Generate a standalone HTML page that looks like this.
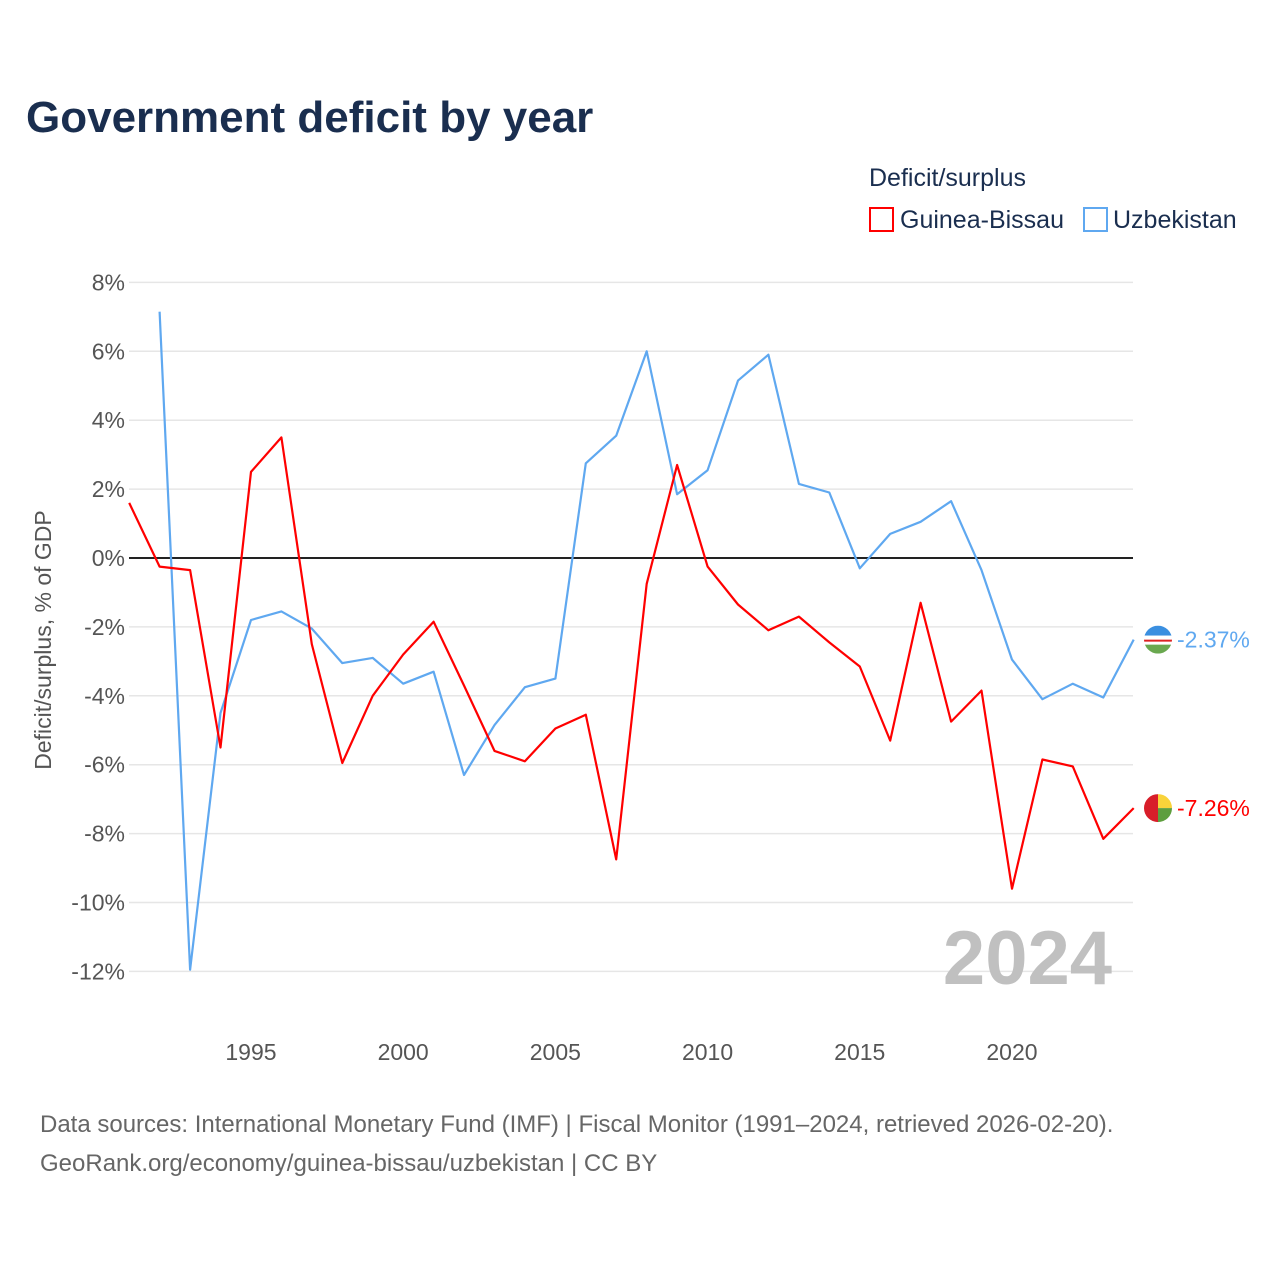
<!DOCTYPE html>
<html><head><meta charset="utf-8"><style>
body{margin:0;background:#fff;font-family:"Liberation Sans",sans-serif}
#wrap{position:relative;width:1280px;height:1280px}
</style></head><body>
<div id="wrap">
<svg id="chart" width="1280" height="1280" style="font-family:'Liberation Sans',sans-serif">
<text x="26" y="132" font-size="44" font-weight="bold" fill="#1a2e4f">Government deficit by year</text>
<text x="869" y="186" font-size="25" fill="#1a2e4f">Deficit/surplus</text>
<g><rect x="870" y="208" width="23" height="23" fill="none" stroke="#f00" stroke-width="2"/><text x="900" y="228" font-size="25" fill="#1a2e4f">Guinea-Bissau</text></g>
<g><rect x="1084" y="208" width="23" height="23" fill="none" stroke="#5fa8f0" stroke-width="2"/><text x="1113" y="228" font-size="25" fill="#1a2e4f">Uzbekistan</text></g>
<g id="grid"></g><g id="yt"></g><g id="xt"></g>
<line x1="129" x2="1133" y1="558" y2="558" stroke="#222" stroke-width="2"/>
<text transform="translate(51,640) rotate(-90)" text-anchor="middle" font-size="23" fill="#555">Deficit/surplus, % of GDP</text>
<text x="1112" y="984" text-anchor="end" font-size="76" font-weight="bold" fill="#c0c0c0">2024</text>
<defs>
<clipPath id="cpU"><circle cx="0" cy="0" r="14"/></clipPath>
</defs>
<g id="series"></g>
<text x="40" y="1132" font-size="24" fill="#666">Data sources: International Monetary Fund (IMF) | Fiscal Monitor (1991–2024, retrieved 2026-02-20).</text>
<text x="40" y="1171" font-size="24" fill="#666">GeoRank.org/economy/guinea-bissau/uzbekistan | CC BY</text>
</svg></div>
<script>
const years=[];for(let y=1991;y<=2024;y++)years.push(y);
const guineaBissau=[1.6,-0.25,-0.35,-5.5,2.5,3.5,-2.5,-5.95,-4.0,-2.8,-1.85,-3.7,-5.6,-5.9,-4.95,-4.55,-8.75,-0.75,2.7,-0.25,-1.35,-2.1,-1.7,-2.45,-3.15,-5.3,-1.3,-4.75,-3.85,-9.6,-5.85,-6.05,-8.15,-7.26];
const uzbekistan=[null,7.15,-11.95,-4.5,-1.8,-1.55,-2.05,-3.05,-2.9,-3.65,-3.3,-6.3,-4.85,-3.75,-3.5,2.75,3.55,6.0,1.85,2.55,5.15,5.9,2.15,1.9,-0.3,0.7,1.05,1.65,-0.35,-2.95,-4.1,-3.65,-4.05,-2.37];
const yTicks=[8,6,4,2,0,-2,-4,-6,-8,-10,-12];
const xTicks=[1995,2000,2005,2010,2015,2020];
const X=y=>129.2+(y-1991)*30.44;
const Y=v=>558-v*34.45;
const NS='http://www.w3.org/2000/svg';
function mk(t,a,p){const e=document.createElementNS(NS,t);for(const k in a)e.setAttribute(k,a[k]);p.appendChild(e);return e;}
const grid=document.getElementById('grid'),yt=document.getElementById('yt'),xt=document.getElementById('xt'),ser=document.getElementById('series');
yTicks.forEach(v=>{
 const l=mk('line',{x1:129,x2:1133,y1:Y(v),y2:Y(v),stroke:'#e6e6e6','stroke-width':1.5},grid);
 
 
 const t=mk('text',{x:125,y:Y(v)+8,'text-anchor':'end','font-size':23,fill:'#555'},yt);
 t.textContent=v+'%';
 
 
});
xTicks.forEach(v=>{
 const t=mk('text',{x:X(v),y:1060,'text-anchor':'middle','font-size':23,fill:'#555'},xt);
 t.textContent=v;
 
 
});
function flag(name,cy,parts){
 const g=mk('g',{transform:'translate(1158,'+cy+')','clip-path':'url(#cpU)'},ser);
 
 
 parts.forEach(p=>mk('rect',p,g));
}
function line(vals,color,name,parts){
 const pts=[];vals.forEach((v,i)=>{if(v!==null)pts.push(X(years[i]).toFixed(1)+','+Y(v).toFixed(1));});
 const p=mk('polyline',{points:pts.join(' '),fill:'none',stroke:color,'stroke-width':2.2,'stroke-linejoin':'round'},ser);
 
 
 const last=vals[vals.length-1];
 flag(name,Y(last),parts);
 const t=mk('text',{x:1177,y:Y(last)+8,'font-size':23,fill:color},ser);
 t.textContent=last.toFixed(2)+'%';
 
 
}
line(uzbekistan,'#5fa8f0','uzbekistan',[
 {x:-14,y:-14,width:28,height:10,fill:'#3a8fe0'},
 {x:-14,y:-4,width:28,height:9,fill:'#fff'},
 {x:-14,y:0,width:28,height:2,fill:'#d22'},
 {x:-14,y:5,width:28,height:9,fill:'#6aa84f'}]);
line(guineaBissau,'#ff0000','guinea-bissau',[
 {x:-14,y:-14,width:14,height:28,fill:'#d81e2a'},
 {x:0,y:-14,width:14,height:14,fill:'#f9d33a'},
 {x:0,y:0,width:14,height:14,fill:'#5e9e3e'}]);
</script></body></html>
